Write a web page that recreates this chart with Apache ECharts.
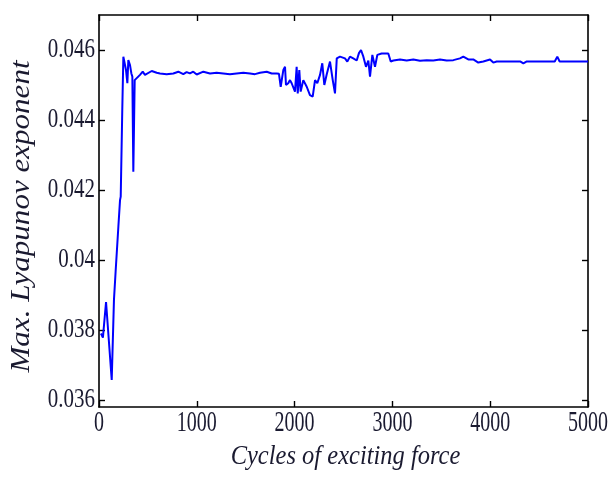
<!DOCTYPE html>
<html>
<head>
<meta charset="utf-8">
<style>
  html, body { margin: 0; padding: 0; background: #fff; }
  #chart { width: 609px; height: 477px; }
</style>
<script src="https://cdn.jsdelivr.net/npm/echarts@6/dist/echarts.min.js"></script>
</head>
<body>
<div id="chart"></div>
<script>
// Largest Lyapunov exponent versus number of excitation cycles
const cycles = [
  20, 40, 72, 130, 153, 170, 181, 198, 215, 222, 238, 249, 263, 276, 290, 300,
  317, 331, 341, 351, 365, 385, 419, 447, 470, 539, 590, 624, 692, 760, 811,
  862, 896, 930, 964, 999, 1067, 1135, 1203, 1271, 1339, 1407, 1476, 1544,
  1595, 1646, 1715, 1766, 1817, 1840, 1858, 1885, 1902, 1912, 1935, 1953,
  1970, 1987, 2004, 2021, 2032, 2048, 2062, 2089, 2124, 2157, 2185, 2209,
  2232, 2260, 2283, 2304, 2328, 2362, 2390, 2413, 2431, 2464, 2515, 2539,
  2566, 2600, 2635, 2658, 2679, 2703, 2730, 2754, 2771, 2795, 2822, 2846,
  2890, 2958, 2983, 3010, 3078, 3146, 3214, 3282, 3351, 3418, 3487, 3555,
  3623, 3691, 3725, 3776, 3827, 3878, 3930, 3998, 4032, 4066, 4200, 4310,
  4339, 4370, 4500, 4660, 4686, 4710, 4850, 5000
];
const lyapunov = [
  0.03790, 0.03778, 0.03880, 0.03657, 0.03886, 0.03967, 0.03970, 0.04095,
  0.04171, 0.04181, 0.04429, 0.04581, 0.04586, 0.04543, 0.04505, 0.04571,
  0.04557, 0.04533, 0.04524, 0.04252, 0.04514, 0.04519, 0.04529, 0.04538,
  0.04529, 0.04540, 0.04535, 0.04533, 0.04531, 0.04533, 0.04538, 0.04531,
  0.04537, 0.04533, 0.04538, 0.04530, 0.04538, 0.04533, 0.04535, 0.04533,
  0.04531, 0.04533, 0.04535, 0.04533, 0.04531, 0.04535, 0.04538, 0.04533,
  0.04533, 0.04532, 0.04495, 0.04543, 0.04552, 0.04500, 0.04505, 0.04514,
  0.04505, 0.04500, 0.04481, 0.04552, 0.04476, 0.04543, 0.04481, 0.04514,
  0.04495, 0.04471, 0.04467, 0.04514, 0.04505, 0.04529, 0.04562, 0.04500,
  0.04530, 0.04567, 0.04514, 0.04476, 0.04576, 0.04581, 0.04576, 0.04567,
  0.04581, 0.04576, 0.04570, 0.04591, 0.04600, 0.04581, 0.04552, 0.04570,
  0.04524, 0.04586, 0.04552, 0.04586, 0.04590, 0.04590, 0.04567, 0.04570,
  0.04573, 0.04570, 0.04573, 0.04569, 0.04571, 0.04570, 0.04573, 0.04570,
  0.04571, 0.04576, 0.04581, 0.04573, 0.04573, 0.04564, 0.04567, 0.04573,
  0.04564, 0.04567, 0.04567, 0.04567, 0.04562, 0.04567, 0.04567, 0.04567,
  0.04581, 0.04567, 0.04567, 0.04567
];

const xTicks = [0, 1000, 2000, 3000, 4000, 5000];
const yTicks = [0.036, 0.038, 0.04, 0.042, 0.044, 0.046];
const xTitle = 'Cycles of exciting force';
const yTitle = 'Max. Lyapunov exponent';

const chart = echarts.init(document.getElementById('chart'), null, { renderer: 'canvas' });

const frameLine = { show: true, onZero: false, lineStyle: { color: '#000', width: 1.6 } };
const inTick = { show: true, inside: true, length: 6, lineStyle: { color: '#000', width: 1.4 } };
const X_MIN = 0, X_MAX = 5000, Y_MIN = 0.0358, Y_MAX = 0.047;

const xAxisBase = {
  type: 'value', min: X_MIN, max: X_MAX, interval: 1000,
  axisLine: frameLine, axisTick: inTick,
  axisLabel: { show: false }, splitLine: { show: false }
};
const yAxisBase = {
  type: 'value', min: Y_MIN, max: Y_MAX,
  axisLine: frameLine,
  axisTick: Object.assign({}, inTick, { customValues: yTicks }),
  axisLabel: { show: false }, splitLine: { show: false }
};

chart.setOption({
  animation: false,
  backgroundColor: '#fff',
  grid: { left: 99, right: 21, top: 15, bottom: 70, containLabel: false },
  xAxis: [
    Object.assign({}, xAxisBase, { position: 'bottom' }),
    Object.assign({}, xAxisBase, { position: 'top' })
  ],
  yAxis: [
    Object.assign({}, yAxisBase, { position: 'left' }),
    Object.assign({}, yAxisBase, { position: 'right' })
  ],
  series: [{
    type: 'line',
    xAxisIndex: 0,
    yAxisIndex: 0,
    data: cycles.map((c, i) => [c, lyapunov[i]]),
    showSymbol: false,
    lineStyle: { color: '#0000ff', width: 2 },
    itemStyle: { color: '#0000ff' }
  }]
});

// Tick labels and axis titles, placed through the axis scales
const textColor = '#1a1a30';
const labels = [];
xTicks.forEach(v => {
  const px = chart.convertToPixel({ xAxisIndex: 0 }, v);
  labels.push({
    type: 'text', x: px, y: 423, scaleY: 1.5, silent: true,
    style: { text: String(v), x: 0, y: 0, fill: textColor,
      font: '20px "Liberation Serif", serif', textAlign: 'center', textVerticalAlign: 'middle' }
  });
});
yTicks.forEach(v => {
  const py = chart.convertToPixel({ yAxisIndex: 0 }, v);
  labels.push({
    type: 'text', x: 95, y: py, scaleY: 1.3, silent: true,
    style: { text: String(v), x: 0, y: 0, fill: textColor,
      font: '21px "Liberation Serif", serif', textAlign: 'right', textVerticalAlign: 'middle' }
  });
});
labels.push({
  type: 'text', x: 345.5, y: 457, scaleY: 1.15, silent: true,
  style: { text: xTitle, x: 0, y: 0, fill: textColor,
    font: 'italic 24.5px "Liberation Serif", serif', textAlign: 'center', textVerticalAlign: 'middle' }
});
labels.push({
  type: 'text', x: 22, y: 216.5, rotation: Math.PI / 2, scaleX: 1.15, silent: true,
  style: { text: yTitle, x: 0, y: 0, fill: textColor,
    font: 'italic 27px "Liberation Serif", serif', textAlign: 'center', textVerticalAlign: 'middle' }
});
chart.setOption({ graphic: labels });
</script>
</body>
</html>
